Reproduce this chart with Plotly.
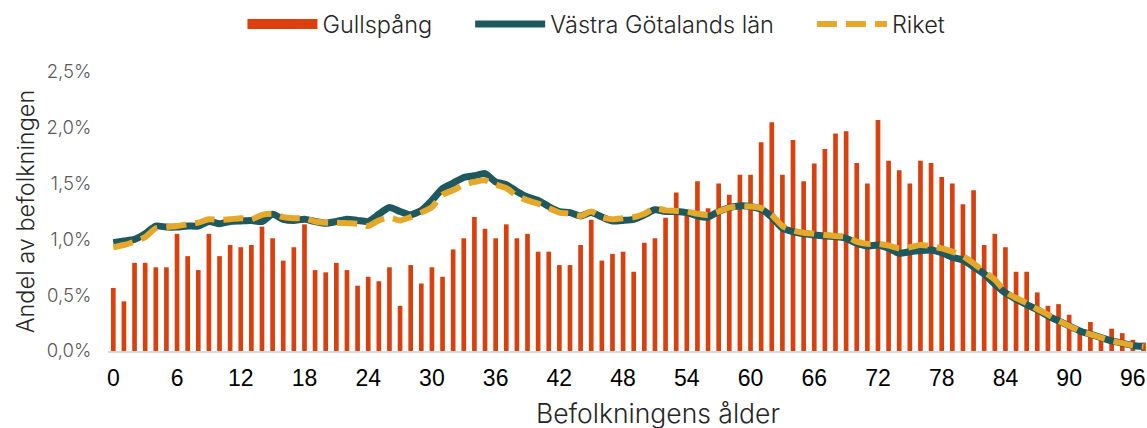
import plotly.graph_objects as go

ages = list(range(0, 98))

gullspang = [
    0.565, 0.445, 0.79, 0.79, 0.75, 0.75, 1.05, 0.85, 0.725, 1.05,
    0.85, 0.95, 0.93, 0.95, 1.115, 1.01, 0.81, 0.93, 1.135, 0.725,
    0.705, 0.79, 0.725, 0.585, 0.665, 0.625, 0.75, 0.405, 0.77, 0.605,
    0.75, 0.665, 0.91, 1.01, 1.2, 1.095, 1.01, 1.135, 1.01, 1.05,
    0.89, 0.89, 0.77, 0.77, 0.95, 1.175, 0.81, 0.87, 0.89, 0.71,
    0.97, 1.01, 1.195, 1.42, 1.25, 1.52, 1.28, 1.50, 1.40, 1.58,
    1.58, 1.87, 2.05, 1.58, 1.89, 1.52, 1.68, 1.81, 1.95, 1.97,
    1.685, 1.50, 2.07, 1.705, 1.62, 1.50, 1.705, 1.685, 1.56, 1.50,
    1.315, 1.44, 0.95, 1.05, 0.93, 0.71, 0.71, 0.525, 0.405, 0.42,
    0.325, 0.2, 0.26, 0.13, 0.2, 0.16, 0.1, 0.075,
]

vastra_gotaland = [
    0.97, 0.985, 1.0, 1.05, 1.12, 1.11, 1.11, 1.12, 1.12, 1.16,
    1.14, 1.16, 1.165, 1.17, 1.16, 1.225, 1.18, 1.17, 1.18, 1.16,
    1.145, 1.16, 1.18, 1.17, 1.16, 1.225, 1.285, 1.25, 1.22, 1.26,
    1.35, 1.455, 1.505, 1.555, 1.57, 1.59, 1.515, 1.49, 1.43, 1.38,
    1.35, 1.295, 1.25, 1.24, 1.21, 1.24, 1.2, 1.165, 1.17, 1.18,
    1.22, 1.265, 1.25, 1.25, 1.24, 1.21, 1.2, 1.25, 1.285, 1.30,
    1.295, 1.27, 1.2, 1.1, 1.07, 1.05, 1.04, 1.03, 1.025, 1.01,
    0.965, 0.94, 0.95, 0.92, 0.875, 0.89, 0.9, 0.905, 0.88, 0.84,
    0.815, 0.755, 0.69, 0.6, 0.52, 0.465, 0.415, 0.37, 0.315, 0.27,
    0.225, 0.18, 0.15, 0.12, 0.09, 0.07, 0.05, 0.04,
]

riket = [
    0.93, 0.95, 0.98, 1.02, 1.10, 1.11, 1.12, 1.135, 1.15, 1.18,
    1.175, 1.18, 1.19, 1.18, 1.22, 1.23, 1.2, 1.19, 1.19, 1.16,
    1.15, 1.15, 1.145, 1.14, 1.12, 1.17, 1.195, 1.17, 1.2, 1.24,
    1.29, 1.40, 1.44, 1.49, 1.515, 1.53, 1.49, 1.46, 1.39, 1.35,
    1.32, 1.28, 1.24, 1.23, 1.21, 1.25, 1.2, 1.18, 1.19, 1.2,
    1.23, 1.28, 1.26, 1.255, 1.25, 1.23, 1.22, 1.25, 1.285, 1.295,
    1.295, 1.28, 1.22, 1.12, 1.08, 1.06, 1.05, 1.04, 1.03, 1.025,
    0.98, 0.96, 0.96, 0.945, 0.92, 0.93, 0.95, 0.94, 0.92, 0.89,
    0.85, 0.785, 0.71, 0.64, 0.53, 0.475, 0.43, 0.375, 0.325, 0.27,
    0.225, 0.18, 0.15, 0.12, 0.09, 0.07, 0.05, 0.04,
]

series_names = ["Gullspång", "Västra Götalands län", "Riket"]
x_ticks = list(range(0, 97, 6))
y_ticks = [0.0, 0.5, 1.0, 1.5, 2.0, 2.5]
y_tick_text = ["0,0%", "0,5%", "1,0%", "1,5%", "2,0%", "2,5%"]

RED = "#D9400E"
TEAL = "#1E5960"
GOLD = "#E5A82A"
LIGHT = "Inter"
PAD = "\u00a0" * 5  # extra spacing after a legend entry

fig = go.Figure()
fig.add_trace(go.Bar(
    x=ages, y=gullspang, name=series_names[0], legendgroup="g", showlegend=False,
    marker=dict(color=RED, line=dict(width=0)),
))
# legend swatch for the bar series (wide rectangle as in the reference)
fig.add_trace(go.Scatter(
    x=[None], y=[None], name=series_names[0] + PAD, legendgroup="g", mode="lines",
    line=dict(color=RED, width=13),
))
fig.add_trace(go.Scatter(
    x=ages, y=vastra_gotaland, name=series_names[1] + PAD, mode="lines",
    line=dict(color=TEAL, width=7, shape="spline", smoothing=0.6),
))
fig.add_trace(go.Scatter(
    x=ages, y=riket, name=series_names[2], mode="lines",
    line=dict(color=GOLD, width=6, shape="spline", smoothing=0.6, dash="20px,9px"),
))

fig.update_layout(
    width=1147, height=428,
    margin=dict(l=108, r=0, t=72, b=77),
    paper_bgcolor="white", plot_bgcolor="white",
    bargap=0.56,
    showlegend=True,
    legend=dict(
        orientation="h", xref="container", yref="container",
        x=0.52, xanchor="center", y=0.995, yanchor="top",
        font=dict(family=LIGHT, size=23.5, color="#262626", weight=300),
        traceorder="normal", itemwidth=70,
    ),
    xaxis=dict(
        range=[-0.5, 97.33],
        tickmode="array", tickvals=x_ticks, ticktext=[str(v) for v in x_ticks],
        tickfont=dict(family="Liberation Sans, Arial", size=23, color="#000000"),
        ticks="outside", ticklen=6, tickcolor="rgba(0,0,0,0)",
        showline=True, linecolor="#D9D9D9", linewidth=1.5,
        showgrid=False, zeroline=False,
    ),
    yaxis=dict(
        range=[0, 2.5],
        tickmode="array", tickvals=y_ticks, ticktext=y_tick_text,
        tickfont=dict(family=LIGHT, size=18.5, color="#595959", weight=300),
        ticks="outside", ticklen=12, tickcolor="rgba(0,0,0,0)",
        showgrid=False, zeroline=False, showline=False,
        title=dict(text="Andel av befolkningen", standoff=5,
                   font=dict(family=LIGHT, size=23.5, color="#262626", weight=300)),
    ),
    annotations=[dict(
        text="Befolkningens ålder", xref="paper", yref="paper",
        x=0.529, y=0, xanchor="center", yanchor="middle", yshift=-62,
        showarrow=False,
        font=dict(family=LIGHT, size=26.5, color="#262626", weight=300),
    )],
)

fig.write_html(
    "out.html",
    config={"displayModeBar": False},
    post_script="document.body.style.margin='0';document.body.style.overflow='hidden';",
)
